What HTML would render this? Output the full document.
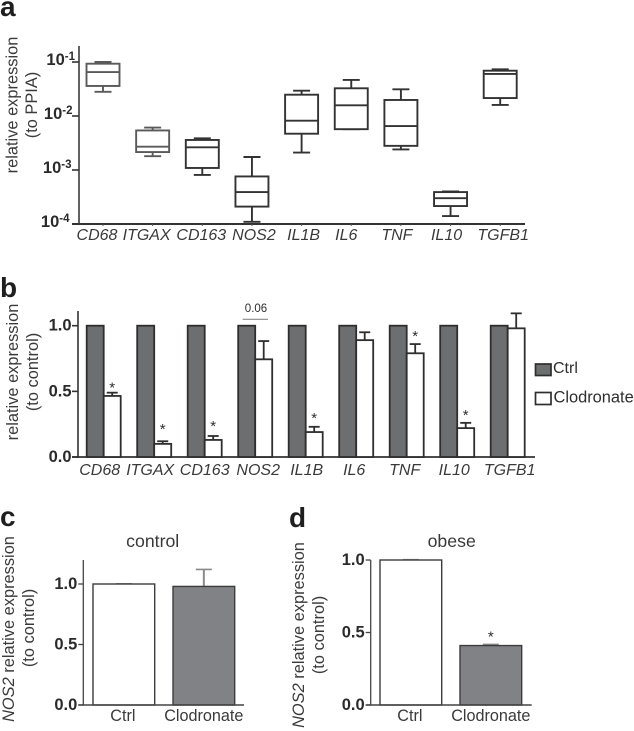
<!DOCTYPE html>
<html lang="en">
<head>
<meta charset="utf-8">
<title>Relative expression panels</title>
<style>
html,body{margin:0;padding:0;background:#fff;}
#figure{display:block;width:634px;height:731px;font-family:"Liberation Sans",sans-serif;filter:blur(.3px);}
text{fill:#2e2e2e;}
.letter{font-size:28px;font-weight:700;fill:#1f1f1f;}
.tick{font-size:16.5px;font-weight:700;text-anchor:end;fill:#2a2a2a;}
.cat{font-size:16px;font-style:italic;text-anchor:middle;fill:#3a3a3a;}
.plain{font-size:16.2px;text-anchor:middle;fill:#3a3a3a;}
.ptitle{font-size:17.7px;text-anchor:middle;fill:#3a3a3a;}
.ytitle{font-size:16.4px;text-anchor:middle;fill:#3a3a3a;}
</style>
</head>
<body>
<svg id="figure" xmlns="http://www.w3.org/2000/svg" width="634" height="731" viewBox="0 0 634 731">
  <rect x="0" y="0" width="634" height="731" fill="#fff"/>
  <text class="letter" x="0" y="16">a</text>
  <text class="letter" x="0" y="297">b</text>
  <text class="letter" x="0" y="526">c</text>
  <text class="letter" x="289" y="527">d</text>

  <text class="ytitle" transform="translate(17.5,105) rotate(-90)">relative expression</text>
  <text class="ytitle" transform="translate(37,105) rotate(-90)">(to PPIA)</text>
  <text class="ytitle" transform="translate(18,372) rotate(-90)">relative expression</text>
  <text class="ytitle" transform="translate(38,372) rotate(-90)">(to control)</text>
  <text class="ytitle" transform="translate(14,629) rotate(-90)"><tspan font-style="italic">NOS2</tspan> relative expression</text>
  <text class="ytitle" transform="translate(34,628) rotate(-90)">(to control)</text>
  <text class="ytitle" transform="translate(304,635) rotate(-90)"><tspan font-style="italic">NOS2</tspan> relative expression</text>
  <text class="ytitle" transform="translate(324,635) rotate(-90)">(to control)</text>

  <text class="ptitle" x="152.7" y="547">control</text>
  <text class="ptitle" x="451.7" y="547">obese</text>
</svg>
<script>
/* Panel a: box plot data */
const boxCategories = ['CD68','ITGAX','CD163','NOS2','IL1B','IL6','TNF','IL10','TGFB1'];
const boxWhiskerHigh = [0.1,0.0061,0.00386,0.00174,0.0294,0.0465,0.0312,0.0004,0.0733];
const boxQ3 = [0.093,0.0054,0.0036,0.00076,0.0248,0.0326,0.0198,0.00039,0.069];
const boxMedian = [0.065,0.0027,0.00263,0.00039,0.0082,0.0158,0.0065,0.0003,0.06];
const boxQ1 = [0.036,0.00215,0.00109,0.00021,0.0047,0.0057,0.0028,0.000215,0.0215];
const boxWhiskerLow = [0.028,0.0018,0.00081,0.00011,0.0021,0.0057,0.0024,0.00014,0.016];
const boxTickValues = [0.1,0.01,0.001,0.0001];
const boxTickExponents = ['-1','-2','-3','-4'];

/* Panel b: paired bar data */
const barCategories = ['CD68','ITGAX','CD163','NOS2','IL1B','IL6','TNF','IL10','TGFB1'];
const ctrlValues = [1,1,1,1,1,1,1,1,1];
const clodronateValues = [0.465,0.10,0.13,0.744,0.19,0.89,0.79,0.22,0.98];
const clodronateErrorTops = [0.49,0.12,0.16,0.883,0.23,0.95,0.86,0.26,1.094];
const clodronateSignificant = [true,true,true,false,true,false,true,true,false];
const barTickValues = [0,0.5,1];
const barTickLabels = ['0.0','0.5','1.0'];

/* Panels c and d: two-bar data */
const simpleCategories = ['Ctrl','Clodronate'];
const controlValues = [1,0.98];
const controlErrorTops = [1.002,1.12];
const obeseValues = [1,0.41];
const obeseErrorTops = [1.002,0.418];
const simpleTickValues = [0,0.5,1];
const simpleTickLabels = ['0.0','0.5','1.0'];

const NS = 'http://www.w3.org/2000/svg';
const root = document.getElementById('figure');

function mk(tag, attrs, parent) {
  const el = document.createElementNS(NS, tag);
  for (const k in attrs) el.setAttribute(k, attrs[k]);
  (parent || root).appendChild(el);
  return el;
}
function line(x1, y1, x2, y2, stroke, w, parent) {
  return mk('line', {x1: x1, y1: y1, x2: x2, y2: y2, stroke: stroke, 'stroke-width': w}, parent);
}
function group(name) {
  const g = mk('g', {});
  
  
  return g;
}
function label(parent, cls, x, y, str) {
  const t = mk('text', {class: cls, x: x, y: y}, parent);
  t.textContent = str;
  return t;
}

/* ---------- Panel a ---------- */
const xBox = i => 103 + 49.65 * i;
const yBox = v => 224 - 54 * (Math.log10(v) + 4);
const boxNudge = [-6,-6,-1,2,2,-5,-4,-4,3];
const boxStroke = ['#5a5a5a','#5a5a5a','#333','#333','#333','#333','#333','#333','#333'];
const tickLabelEnd = [75,72.5,71.5,69.5];

const axisA = group('panel-a-axes');
let axisLine = line(79, 46, 79, 225, '#3a3a3a', 1.6, axisA);


axisLine = line(72, 224, 525, 224, '#333', 2, axisA);



boxTickValues.forEach((v, i) => {
  const y = yBox(v);
  const tk = line(72, y, 79, y, '#333', 1.6, axisA);
  
  
  const t = mk('text', {class: 'tick', x: tickLabelEnd[i], y: y + 3}, axisA);
  
  
  const base = mk('tspan', {}, t);
  base.textContent = '10';
  const sup = mk('tspan', {dy: -5, 'font-size': 11.5}, t);
  sup.textContent = boxTickExponents[i];
});

boxCategories.forEach((cat, i) => {
  const g = group('box-' + cat.toLowerCase());
  const x = xBox(i), half = 16.5, cap = 8.5, col = boxStroke[i], w = 1.9;
  const hi = yBox(boxWhiskerHigh[i]), q3 = yBox(boxQ3[i]), med = yBox(boxMedian[i]);
  const q1 = yBox(boxQ1[i]), lo = yBox(boxWhiskerLow[i]);
  line(x, hi, x, q3, col, w, g);
  line(x, q1, x, lo, col, w, g);
  line(x - cap, hi, x + cap, hi, col, w, g);
  line(x - cap, lo, x + cap, lo, col, w, g);
  mk('rect', {x: x - half, y: q3, width: half * 2, height: q1 - q3, fill: '#fff', stroke: col, 'stroke-width': w}, g);
  line(x - half, med, x + half, med, col, w, g);
  line(x, 224, x, 226, '#555', 1, axisA);
  const t = label(root, 'cat', x + boxNudge[i], 240, cat);
  
  
});

/* ---------- Panel b ---------- */
const BAR_WIDTH = 17;
const xBar = i => 103.7 + 50.5 * i;
const yBar = v => 457 - 131.3 * v;
const barNudge = [-4,-4,0,3,1,-2,-2,-3,2];
const starLift = [1,8,6,0,5,0,4,4,0];

const axisB = group('panel-b-axes');
barCategories.forEach((cat, i) => {
  const g = group('bars-' + cat.toLowerCase());
  const x = xBar(i);
  const c = mk('rect', {x: x - BAR_WIDTH, y: yBar(ctrlValues[i]), width: BAR_WIDTH, height: yBar(0) - yBar(ctrlValues[i]), fill: '#6d6e70', stroke: '#2e2e2e', 'stroke-width': 1.8}, g);
  
  
  const top = yBar(clodronateErrorTops[i]);
  line(x + BAR_WIDTH / 2, top, x + BAR_WIDTH / 2, yBar(clodronateValues[i]), '#2e2e2e', 1.8, g);
  line(x + BAR_WIDTH / 2 - 5.5, top, x + BAR_WIDTH / 2 + 5.5, top, '#2e2e2e', 1.8, g);
  const b = mk('rect', {x: x, y: yBar(clodronateValues[i]), width: BAR_WIDTH, height: yBar(0) - yBar(clodronateValues[i]), fill: '#fff', stroke: '#2e2e2e', 'stroke-width': 1.8}, g);
  
  
  if (clodronateSignificant[i]) {
    const s = mk('text', {x: x + BAR_WIDTH / 2, y: top - starLift[i] + 1, 'text-anchor': 'middle', 'font-size': 15}, g);
    s.textContent = '*';
    
    
  }
  const t = label(root, 'cat', x + barNudge[i], 475, cat);
  
  
});
axisLine = line(78, 311, 78, 458, '#333', 1.6, axisB);


axisLine = line(72, 457, 535, 457, '#333', 1.8, axisB);


barTickValues.forEach((v, i) => {
  const y = yBar(v);
  const tk = line(72, y, 78, y, '#333', 1.6, axisB);
  
  
  const t = label(axisB, 'tick', 71.5, y + 5, barTickLabels[i]);
  
  
});

/* p-value annotation */
const pLine = line(242.7, 319.3, 268, 319.3, '#8a8a8a', 1.2);


const pText = mk('text', {x: 256, y: 312, 'text-anchor': 'middle', 'font-size': 11.5});
pText.textContent = '0.06';



/* Legend */
const legend = group('panel-b-legend');
const swCtrl = mk('rect', {x: 535.5, y: 364, width: 15.5, height: 11.5, fill: '#6d6e70', stroke: '#2e2e2e', 'stroke-width': 1.7}, legend);


const lgCtrl = mk('text', {x: 553, y: 373, 'font-size': 16, fill: '#333'}, legend);
lgCtrl.textContent = 'Ctrl';


const swClod = mk('rect', {x: 535.5, y: 392.5, width: 15.5, height: 12, fill: '#fff', stroke: '#2e2e2e', 'stroke-width': 1.7}, legend);


const lgClod = mk('text', {x: 553.5, y: 402.5, 'font-size': 16.4, fill: '#333'}, legend);
lgClod.textContent = 'Clodronate';



/* ---------- Panels c, d ---------- */
function simplePanel(name, values, errorTops, yScale, axisX, axisTop, axisEnd, barStart, significant) {
  const g = group(name + '-chart');
  const width = 61.7, gap = 80;
  values.forEach((v, i) => {
    const x = barStart + gap * i;
    const colFill = i === 0 ? '#fff' : '#808285';
    const errCol = i === 0 ? '#9a9a9a' : '#8a8a8a';
    const top = yScale(errorTops[i]);
    const cx = x + width / 2;
    line(cx, top, cx, yScale(v), errCol, 2, g);
    line(cx - 8, top, cx + 8, top, errCol, 1.6, g);
    const r = mk('rect', {x: x, y: yScale(v), width: width, height: yScale(0) - yScale(v), fill: colFill, stroke: '#3c3c3c', 'stroke-width': 1.4}, g);
    
    
    const t = label(g, 'plain', cx + (i === 0 ? -1 : 0), 721, simpleCategories[i]);
    
    
    if (significant[i]) {
      const s = mk('text', {x: cx, y: top - 3, 'text-anchor': 'middle', 'font-size': 15}, g);
      s.textContent = '*';
      
      
    }
  });
  const ya = line(axisX, axisTop, axisX, yScale(0) + .6, '#444', 1.3, g);
  
  
  const xa = line(axisX - 5, yScale(0), axisEnd, yScale(0), '#444', 1.4, g);
  
  
  simpleTickValues.forEach((v, i) => {
    const y = yScale(v);
    const tk = line(axisX - 5, y, axisX, y, '#444', 1.3, g);
    
    
    const t = label(g, 'tick', axisX - 6, y + 5, simpleTickLabels[i]);
    
    
  });
}
const yControl = v => 705 - 121 * v;
const yObese = v => 705 - 145 * v;
simplePanel('panel-c', controlValues, controlErrorTops, yControl, 83.3, 560, 244, 93, [false, false]);
simplePanel('panel-d', obeseValues, obeseErrorTops, yObese, 370.7, 560, 531.7, 380, [false, true]);
</script>
</body>
</html>
